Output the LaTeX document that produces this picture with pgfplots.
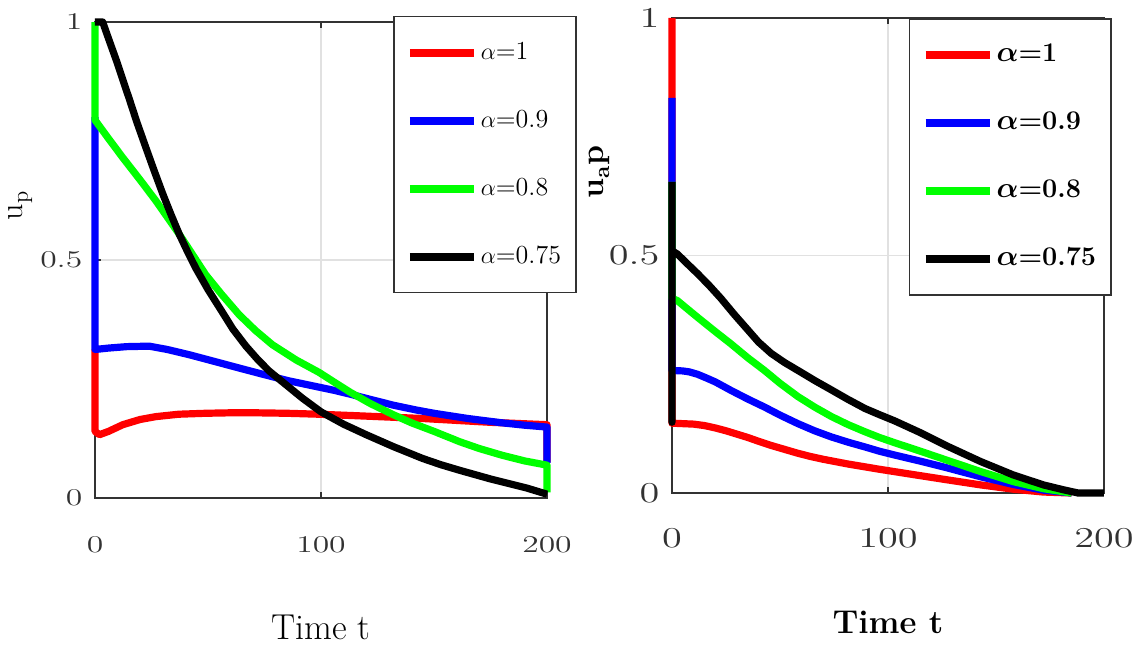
\documentclass[border=0pt]{standalone}
\usepackage{pgfplots}
\pgfplotsset{compat=1.18}
\definecolor{axgray}{RGB}{50,50,50}
\definecolor{gridgray}{RGB}{225,225,225}
\begin{document}
\begin{tikzpicture}
\useasboundingbox (0,0) rectangle (568.5pt,322pt);
\pgfplotsset{
  myax/.style={
    scale only axis, xmin=0, xmax=200, ymin=0, ymax=1,
    xtick={0,100,200}, ytick={0,0.5,1},
    grid=major, major grid style={color=gridgray, line width=0.6pt},
    axis line style={color=axgray, line width=0.8pt},
    tick style={color=axgray, line width=0.6pt},
    tick align=inside, major tick length=3pt,
    clip=false,
    every axis plot/.append style={line width=3.6pt, line join=round, line cap=butt},
    legend cell align=left,
    legend image code/.code={\draw[#1,line width=4pt] (0pt,0pt) -- (32pt,0pt);},
    xticklabel style={anchor=center, xscale=1.4},
    yticklabel style={anchor=east, xscale=1.4},
    ylabel style={anchor=center, rotate=0, inner sep=0pt},
    xlabel style={anchor=center},
  }
}
% ---------------- left panel ----------------
\begin{axis}[myax, at={(47.5pt,73pt)}, anchor=south west, width=226pt, height=238pt,
  tick label style={font=\fontsize{12}{14}\selectfont, text=axgray},
  xticklabel style={yshift=-23.5pt},
  yticklabel style={xshift=-1pt},
  xlabel={Time t}, xlabel style={at={(axis description cs:0.5,0)}, yshift=-64.5pt, font=\fontsize{18}{20}\selectfont},
  ylabel={u\textsubscript{p}}, ylabel style={at={(axis description cs:-0.165,0.615)}, font=\fontsize{16}{18}\selectfont},
  legend style={at={(1.066,1.013)}, anchor=north east, draw=axgray, line width=0.8pt,
    inner xsep=6pt, inner ysep=11pt, row sep=20pt, font=\fontsize{13}{15}\selectfont,
    nodes={inner sep=1.5pt, text height=9pt, text depth=2pt}},
]
\addplot[red] coordinates {(0,0.312) (0,0.14) (2,0.133) (6,0.14) (12.3,0.154) (20,0.165) (27,0.171) (37,0.176) (49,0.178) (60,0.179) (71,0.179) (85,0.178) (99,0.176) (115,0.173) (130,0.17) (145,0.167) (160,0.163) (175,0.159) (190,0.156) (200,0.154) (200,0.075)};
\addlegendentry{$\alpha$=1}
\addplot[blue] coordinates {(0,0.8) (0,0.312) (6,0.315) (14,0.318) (24,0.319) (32,0.312) (41.7,0.301) (52,0.288) (63.8,0.273) (75,0.259) (85.9,0.246) (92,0.24) (99,0.233) (106,0.226) (113,0.218) (122,0.207) (132,0.195) (142,0.185) (150,0.178) (165,0.167) (180,0.158) (190,0.153) (200,0.149) (200,0.074)};
\addlegendentry{$\alpha$=0.9}
\addplot[green] coordinates {(0,1) (0,0.794) (6,0.755) (12.3,0.715) (20,0.668) (27,0.624) (37.3,0.554) (49,0.469) (56,0.428) (63.8,0.385) (71,0.352) (78.5,0.322) (89,0.29) (99.1,0.264) (106,0.243) (113,0.222) (122,0.198) (132,0.175) (140,0.158) (150,0.14) (161.5,0.118) (170,0.104) (180,0.09) (190,0.078) (200,0.069) (200,0.012)};
\addlegendentry{$\alpha$=0.8}
\addplot[black] coordinates {(0,1) (3.4,1) (6,0.965) (9.4,0.92) (12,0.883) (15.2,0.838) (18.5,0.79) (22.6,0.735) (26,0.69) (29.9,0.64) (33.5,0.597) (37.3,0.554) (41,0.517) (44.7,0.482) (50,0.438) (56.4,0.39) (61,0.355) (66.8,0.319) (72,0.291) (77,0.267) (85,0.236) (91.7,0.21) (100,0.181) (110,0.155) (120,0.133) (132,0.108) (145,0.083) (153,0.07) (161.5,0.058) (175,0.04) (191,0.021) (200,0.008)};
\addlegendentry{$\alpha$=0.75}
\end{axis}
% ---------------- right panel ----------------
\begin{axis}[myax, at={(336pt,75.5pt)}, anchor=south west, width=216pt, height=237.5pt,
  tick label style={font=\fontsize{14}{16}\selectfont\bfseries, text=axgray},
  xticklabel style={yshift=-22.5pt},
  yticklabel style={xshift=-1pt},
  xlabel={Time t}, xlabel style={at={(axis description cs:0.5,0)}, yshift=-64.5pt, font=\fontsize{16.5}{18}\selectfont\bfseries},
  ylabel={u\textsubscript{a}p}, ylabel style={at={(axis description cs:-0.167,0.676)}, font=\fontsize{16}{18}\selectfont\bfseries},
  legend style={at={(1.0185,1.0)}, anchor=north east, draw=axgray, line width=0.8pt,
    inner xsep=6pt, inner ysep=11pt, row sep=20pt, font=\fontsize{13.5}{15}\selectfont\bfseries\boldmath,
    nodes={inner sep=1.5pt, text height=9pt, text depth=2pt}},
]
\addplot[red] coordinates {(0,1) (0,0.147) (5,0.146) (10,0.145) (15,0.142) (20,0.137) (25,0.131) (30,0.124) (35,0.117) (40,0.109) (46,0.1) (52,0.092) (58,0.084) (64,0.077) (70,0.071) (81.5,0.061) (96,0.05) (110,0.04) (127,0.028) (143,0.017) (158,0.008) (172,0.002) (185,0)};
\addlegendentry{$\alpha$=1}
\addplot[blue] coordinates {(0,0.832) (0,0.258) (5,0.257) (8,0.255) (11.8,0.25) (16,0.242) (20,0.234) (27.3,0.216) (35,0.198) (42.8,0.181) (50,0.164) (58.3,0.146) (66,0.131) (73.8,0.118) (81.5,0.107) (89.3,0.097) (96,0.088) (103,0.08) (115,0.067) (127.3,0.053) (143,0.034) (158,0.018) (172,0.006) (185,0)};
\addlegendentry{$\alpha$=0.9}
\addplot[green] coordinates {(0,0.655) (0,0.41) (2.5,0.405) (7,0.388) (11.8,0.37) (20,0.34) (27.3,0.314) (35,0.285) (42.8,0.258) (50,0.231) (58.3,0.203) (66,0.181) (73.8,0.161) (81.5,0.144) (89.3,0.129) (96,0.117) (103,0.106) (115,0.088) (127.3,0.069) (143,0.045) (158,0.024) (172,0.009) (185,0)};
\addlegendentry{$\alpha$=0.8}
\addplot[black] coordinates {(0,0.655) (0,0.149) (0,0.51) (2.5,0.503) (7,0.483) (11.8,0.462) (17,0.438) (22.6,0.41) (29,0.375) (35,0.344) (40,0.318) (45.9,0.294) (52,0.275) (58.3,0.258) (66,0.237) (73.8,0.217) (81.5,0.197) (89.3,0.178) (96,0.165) (103,0.152) (115,0.127) (127.3,0.099) (143,0.066) (158,0.038) (172,0.017) (181,0.007) (188,0) (200,0)};
\addlegendentry{$\alpha$=0.75}
\end{axis}
\end{tikzpicture}
\end{document}
